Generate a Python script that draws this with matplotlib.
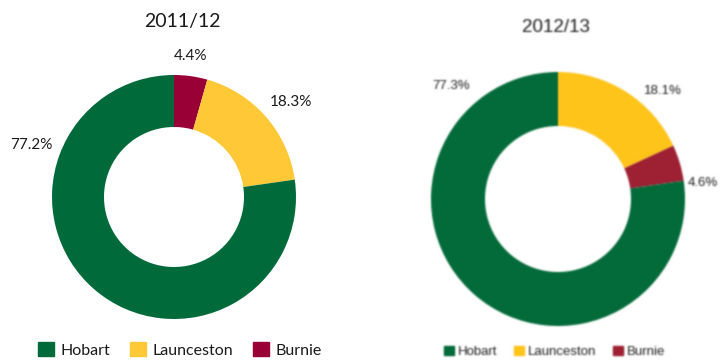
import matplotlib
matplotlib.use("Agg")
import numpy as np
import matplotlib.pyplot as plt
from matplotlib.patches import Patch

# shares of the total by city, per year
CITIES = ["Hobart", "Launceston", "Burnie"]
COLORS = {"Hobart": "#006a3b", "Launceston": "#ffc836", "Burnie": "#990036"}
COLORS_B = {"Hobart": "#036b3a", "Launceston": "#fec41a", "Burnie": "#9d2132"}

order_1112 = ["Burnie", "Launceston", "Hobart"]
share_1112 = [4.4, 18.3, 77.2]
order_1213 = ["Launceston", "Burnie", "Hobart"]
share_1213 = [18.1, 4.6, 77.3]

W, H = 720, 360
fig = plt.figure(figsize=(7.2, 3.6), dpi=100)


def px(x, y):
    return x / W, 1 - y / H


def donut(cx, cy, r, hole, order, shares, colors):
    ax = fig.add_axes([(cx - r) / W, (H - cy - r) / H, 2 * r / W, 2 * r / H])
    ax.pie(shares, colors=[colors[c] for c in order], startangle=90,
           counterclock=False, radius=1,
           wedgeprops=dict(width=1 - hole / r, edgecolor="none"))
    ax.set_xlim(-1, 1)
    ax.set_ylim(-1, 1)
    ax.set_aspect("equal")
    ax.axis("off")
    return ax


# left panel
donut(174, 197, 122, 70, order_1112, share_1112, COLORS)
lfont = dict(family="Lato", color="#1a1a1a")
fig.text(*px(182, 22), "2011/12", ha="center", va="center", fontsize=14, **lfont)
lab_pos = {"Burnie": (191, 56), "Launceston": (291, 102), "Hobart": (31, 145)}
for c, v in zip(order_1112, share_1112):
    fig.text(*px(*lab_pos[c]), f"{v}%", ha="center", va="center", fontsize=11, **lfont)

fig.legend(handles=[Patch(color=COLORS[c], label=c) for c in CITIES],
           loc="center left", bbox_to_anchor=px(38, 350), ncol=3, frameon=False,
           prop=dict(family="Lato", size=11.5), labelcolor="#1a1a1a",
           handlelength=1.0, handleheight=1.0, handletextpad=0.4,
           columnspacing=1.25, borderpad=0, borderaxespad=0)

# right panel
donut(558, 199, 127, 73, order_1213, share_1213, COLORS_B)
rfont = dict(family="Liberation Sans", color="#1e1e1e")
fig.text(*px(556, 27), "2012/13", ha="center", va="center", fontsize=13.5, **rfont)
lab_pos = {"Hobart": (451, 86), "Launceston": (663, 91), "Burnie": (703, 183)}
for c, v in zip(order_1213, share_1213):
    fig.text(*px(*lab_pos[c]), f"{v}%", ha="center", va="center", fontsize=9.5, **rfont)

fig.legend(handles=[Patch(color=COLORS_B[c], label=c) for c in CITIES],
           loc="center left", bbox_to_anchor=px(444, 352), ncol=3, frameon=False,
           prop=dict(family="Liberation Sans", size=9.5), labelcolor="#1e1e1e",
           handlelength=0.72, handleheight=0.72, handletextpad=0.3,
           columnspacing=1.3, borderpad=0, borderaxespad=0)

# the 2012/13 panel is a soft, resampled image: blur the right half slightly
fig.canvas.draw()
img = np.asarray(fig.canvas.buffer_rgba())[:, :, :3].astype(float) / 255
k = np.exp(-0.5 * (np.arange(-3, 4) / 0.85) ** 2)
k /= k.sum()
part = img[:, 400:]
part = np.apply_along_axis(lambda v: np.convolve(v, k, mode="same"), 0, np.pad(part, ((3, 3), (0, 0), (0, 0)), mode="edge"))[3:-3]
part = np.apply_along_axis(lambda v: np.convolve(v, k, mode="same"), 1, np.pad(part, ((0, 0), (3, 3), (0, 0)), mode="edge"))[:, 3:-3]
img[:, 400:] = part
plt.imsave("out.png", np.clip(img, 0, 1))
